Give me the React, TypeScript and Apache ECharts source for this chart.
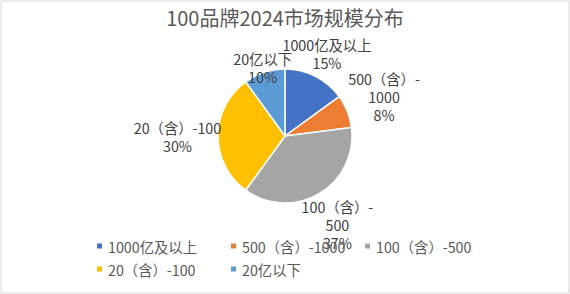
import React, { useEffect, useRef } from "react";
import * as echarts from "echarts";

const titleText = "100品牌2024市场规模分布";
const categories = ["1000亿及以上", "500（含）-1000", "100（含）-500", "20（含）-100", "20亿以下"];
const labelNames = ["1000亿及以上", "500（含）-\n1000", "100（含）-\n500", "20（含）-100", "20亿以下"];
const values = [15, 8, 37, 30, 10];
const colors = ["#4472C4", "#ED7D31", "#A5A5A5", "#FFC000", "#5B9BD5"];

const FONT = "'Noto Sans CJK SC', 'Noto Sans', sans-serif";
const W = 570;
const H = 294;
const CX = 285;
const CY = 136;
const R = 67;

export default function App() {
  const ref = useRef<HTMLDivElement>(null);
  useEffect(() => {
    document.body.style.margin = "0";
    if (!ref.current) return;
    const chart = echarts.init(ref.current, undefined, { renderer: "svg" });
    const total = values.reduce((a, b) => a + b, 0);
    const mids: number[] = [];
    let acc = 0;
    values.forEach((v) => {
      mids.push(((acc + v / 2) / total) * Math.PI * 2);
      acc += v;
    });
    chart.setOption({
      animation: false,
      backgroundColor: "#fff",
      color: colors,
      title: {
        text: titleText,
        left: "center",
        top: 7,
        padding: 0,
        textStyle: { fontFamily: FONT, fontSize: 20, fontWeight: "normal", color: "#595959" },
      },
      graphic: [
        {
          type: "rect",
          shape: { x: 1, y: 1, width: W - 2, height: H - 2 },
          style: { fill: "none", stroke: "#d9d9d9", lineWidth: 1 },
          silent: true,
          z: -1,
        },
      ],
      legend: {
        left: 95,
        top: 238,
        width: 420,
        orient: "horizontal",
        itemWidth: 7,
        itemHeight: 7,
        itemGap: 7,
        icon: "rect",
        padding: 0,
        textStyle: { fontFamily: FONT, fontSize: 14.3, color: "#595959", width: 114, lineHeight: 16 },
        data: categories,
      },
      series: [
        {
          type: "pie",
          center: [CX, CY],
          radius: R,
          startAngle: 90,
          clockwise: true,
          avoidLabelOverlap: false,
          itemStyle: { borderColor: "#fff", borderWidth: 1.5 },
          label: {
            show: true,
            position: "outside",
            overflow: "none",
            fontFamily: FONT,
            fontSize: 14.3,
            lineHeight: 18,
            color: "#404040",
            formatter: (p: any) => labelNames[p.dataIndex] + "\n" + values[p.dataIndex] + "%",
          },
          labelLine: { show: false },
          labelLayout: (params: any) => {
            const i = params.dataIndex;
            const a = mids[i];
            const ux = Math.sin(a);
            const uy = -Math.cos(a);
            const w = params.labelRect.width;
            const h = params.labelRect.height;
            const s = Math.abs(ux) * w / 2 + Math.abs(uy) * h / 2;
            const d = R - 47 + 2 * s;
            return {
              x: CX + ux * d,
              y: CY + uy * d,
              align: "center",
              verticalAlign: "middle",
            };
          },
          data: categories.map((name, i) => ({ name, value: values[i] })),
        },
      ],
    });
    return () => chart.dispose();
  }, []);
  return <div ref={ref} style={{ width: W, height: H }} />;
}
